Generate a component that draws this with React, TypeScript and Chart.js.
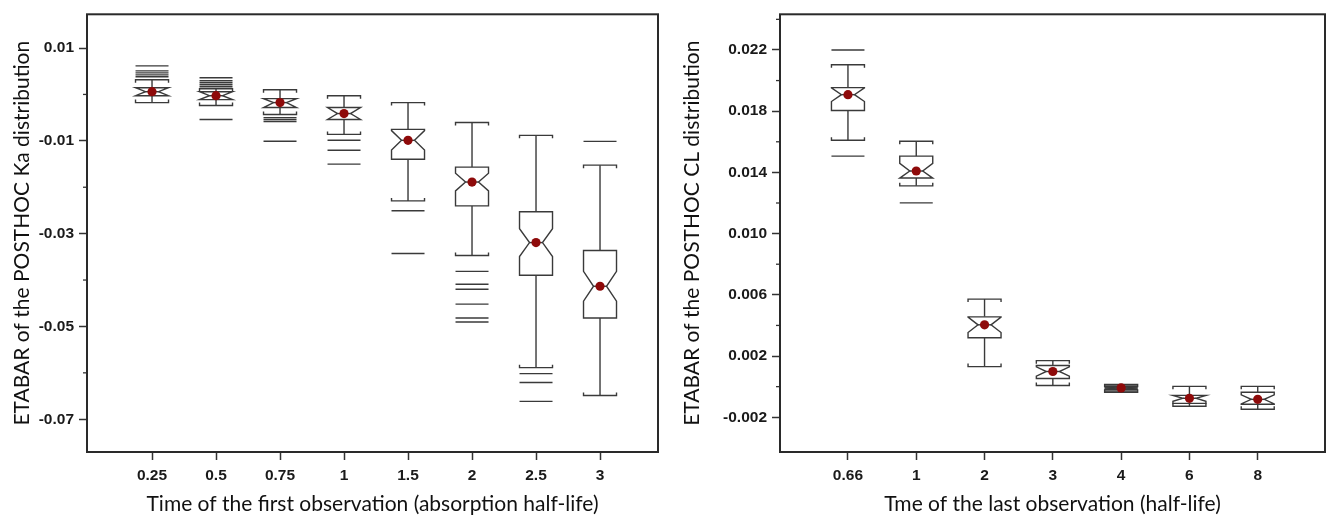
import React, { useEffect, useRef } from "react";
import { Chart, registerables } from "chart.js";

Chart.register(...registerables);

// ---------- Left panel: ETABAR of POSTHOC Ka ----------
const kaCategories = ["0.25", "0.5", "0.75", "1", "1.5", "2", "2.5", "3"];
const kaLowerWhisker = [-0.00176, -0.0024, -0.00433, -0.00861, -0.02294, -0.03471, -0.05888, -0.06487];
const kaQ1 = [-0.00027, -0.00112, -0.00283, -0.0054, -0.01396, -0.02401, -0.03898, -0.04818];
const kaMedian = [0.00059, -0.00027, -0.00176, -0.00412, -0.00989, -0.01888, -0.03193, -0.04134];
const kaQ3 = [0.00144, 0.00059, -0.00091, -0.00283, -0.00754, -0.01567, -0.02529, -0.03364];
const kaUpperWhisker = [0.00316, 0.00123, 0.00102, -0.00027, -0.00176, -0.00604, -0.00882, -0.01524];
const kaNotch = [0.0009, 0.0009, 0.0011, 0.0013, 0.0021, 0.0019, 0.003, 0.0032];
const kaOutliers = [
  [0.00615, 0.00508, 0.00465, 0.00422, 0.0038],
  [0.00358, 0.00294, 0.00251, 0.00209, 0.00166, -0.0054],
  [-0.005, -0.0054, -0.00583, -0.0101],
  [-0.00989, -0.01203, -0.01502],
  [-0.02508, -0.03428],
  [-0.03813, -0.04091, -0.04198, -0.04519, -0.04818, -0.04904],
  [-0.06016, -0.06209, -0.06615],
  [-0.01011],
];
const kaYTicks = [0.01, 0, -0.01, -0.02, -0.03, -0.04, -0.05, -0.06, -0.07];
const kaYLabels = ["0.01", "", "-0.01", "", "-0.03", "", "-0.05", "", "-0.07"];
const kaYRange = [-0.07706, 0.01727];
const kaXRange = [-1.016, 7.906];
const kaXTitle = "Time of the first observation (absorption half-life)";
const kaYTitle = "ETABAR of the POSTHOC Ka distribution";

// ---------- Right panel: ETABAR of POSTHOC CL ----------
const clCategories = ["0.66", "1", "2", "3", "4", "6", "8"];
const clLowerWhisker = [0.0161, 0.01312, 0.00131, 0.00008, -0.00037, -0.00128, -0.00148];
const clQ1 = [0.01804, 0.01363, 0.0032, 0.00053, -0.00018, -0.00109, -0.00115];
const clMedian = [0.01908, 0.01409, 0.00404, 0.00099, -0.00008, -0.00076, -0.00083];
const clQ3 = [0.01954, 0.01506, 0.00456, 0.00138, 0.00002, -0.00057, -0.00037];
const clUpperWhisker = [0.02103, 0.01603, 0.00572, 0.0017, 0.00015, 0.00002, 0.00002];
const clNotch = [0.00045, 0.0005, 0.0005, 0.0003, 0.0001, 0.0002, 0.0003];
const clOutliers = [[0.022, 0.01506], [0.01201], [], [], [], [], []];
const clYTicks = [0.024, 0.022, 0.02, 0.018, 0.016, 0.014, 0.012, 0.01, 0.008, 0.006, 0.004, 0.002, 0, -0.002];
const clYLabels = ["", "0.022", "", "0.018", "", "0.014", "", "0.010", "", "0.006", "", "0.002", "", "-0.002"];
const clYRange = [-0.00427, 0.02433];
const clXRange = [-0.995, 6.985];
const clXTitle = "Tme of the last observation (half-life)";
const clYTitle = "ETABAR of the POSTHOC CL distribution";

type Stats = {
  lo: number[];
  q1: number[];
  med: number[];
  q3: number[];
  hi: number[];
  notch: number[];
  out: number[][];
  yTicks: number[];
  yLabels: string[];
};

const LINE = "#3a3a3a";

function makeBoxPlugin(s: Stats) {
  return {
    id: "notchedBoxes",
    beforeDatasetsDraw(chart: any) {
      const { ctx, scales } = chart;
      const x = scales.x;
      const y = scales.y;
      const hw = 16.5;
      const inset = 10;
      const hook = 3;
      const py = (v: number) => y.getPixelForValue(v);
      ctx.save();
      ctx.strokeStyle = LINE;
      ctx.lineWidth = 1.4;
      ctx.lineJoin = "miter";
      s.med.forEach((m, i) => {
        const cx = x.getPixelForValue(i);
        // outliers
        s.out[i].forEach((o) => {
          const oy = py(o);
          ctx.beginPath();
          ctx.moveTo(cx - hw, oy);
          ctx.lineTo(cx + hw, oy);
          ctx.stroke();
        });
        const yHi = py(s.hi[i]);
        const yLo = py(s.lo[i]);
        const yQ3 = py(s.q3[i]);
        const yQ1 = py(s.q1[i]);
        const yM = py(m);
        const tiny = yQ1 - yQ3 < 5;
        if (tiny) {
          ctx.fillStyle = "#6a6a6a";
          ctx.fillRect(cx - hw, yHi, hw * 2, yLo - yHi);
        }
        // whiskers
        ctx.beginPath();
        ctx.moveTo(cx, yQ3);
        ctx.lineTo(cx, yHi);
        ctx.moveTo(cx, yQ1);
        ctx.lineTo(cx, yLo);
        ctx.stroke();
        // caps with hooks toward box
        ctx.beginPath();
        ctx.moveTo(cx - hw, yHi + hook);
        ctx.lineTo(cx - hw, yHi);
        ctx.lineTo(cx + hw, yHi);
        ctx.lineTo(cx + hw, yHi + hook);
        ctx.moveTo(cx - hw, yLo - hook);
        ctx.lineTo(cx - hw, yLo);
        ctx.lineTo(cx + hw, yLo);
        ctx.lineTo(cx + hw, yLo - hook);
        ctx.stroke();
        // notched box
        const nHi = Math.max(py(m + s.notch[i]), yQ3);
        const nLo = Math.min(py(m - s.notch[i]), yQ1);
        ctx.beginPath();
        ctx.moveTo(cx - hw, yQ3);
        ctx.lineTo(cx + hw, yQ3);
        ctx.lineTo(cx + hw, nHi);
        ctx.lineTo(cx + hw - inset, yM);
        ctx.lineTo(cx + hw, nLo);
        ctx.lineTo(cx + hw, yQ1);
        ctx.lineTo(cx - hw, yQ1);
        ctx.lineTo(cx - hw, nLo);
        ctx.lineTo(cx - hw + inset, yM);
        ctx.lineTo(cx - hw, nHi);
        ctx.closePath();
        if (!tiny) {
          ctx.fillStyle = "#ffffff";
          ctx.fill();
        }
        ctx.stroke();
        // median line
        ctx.beginPath();
        ctx.moveTo(cx - hw + (tiny ? 0 : inset), yM);
        ctx.lineTo(cx + hw - (tiny ? 0 : inset), yM);
        ctx.stroke();
      });
      ctx.restore();
    },
    afterDraw(chart: any) {
      const { ctx, chartArea, scales } = chart;
      const y = scales.y;
      ctx.save();
      // minor ticks
      ctx.strokeStyle = "#333";
      ctx.lineWidth = 1.3;
      s.yTicks.forEach((v, i) => {
        if (s.yLabels[i] !== "") return;
        const yy = y.getPixelForValue(v);
        ctx.beginPath();
        ctx.moveTo(chartArea.left, yy);
        ctx.lineTo(chartArea.left - 4, yy);
        ctx.stroke();
      });
      // frame
      ctx.strokeStyle = "#2a2a2a";
      ctx.lineWidth = 2;
      ctx.strokeRect(chartArea.left, chartArea.top, chartArea.right - chartArea.left, chartArea.bottom - chartArea.top);
      ctx.restore();
    },
  };
}

type PanelProps = {
  width: number;
  height: number;
  categories: string[];
  stats: Stats;
  yRange: number[];
  xRange: number[];
  xTitle: string;
  yTitle: string;
  yAxisWidth: number;
  yTitlePad: number;
  padRight: number;
};

const TICK_FONT = { family: '"Liberation Sans", Arial, sans-serif', size: 15.5, weight: "bold" as const };
const TITLE_FONT = { family: "Lato, 'Open Sans', sans-serif", size: 21, weight: "normal" as const };

function Panel(p: PanelProps) {
  const ref = useRef<HTMLCanvasElement>(null);
  useEffect(() => {
    if (!ref.current) return;
    const s = p.stats;
    const chart = new Chart(ref.current, {
      type: "scatter",
      data: {
        datasets: [
          {
            data: s.med.map((m, i) => ({ x: i, y: m })),
            pointRadius: 4.6,
            pointHoverRadius: 4.6,
            backgroundColor: "#8e0a0a",
            borderColor: "#8e0a0a",
            borderWidth: 0,
          },
        ],
      },
      options: {
        responsive: false,
        animation: false,
        devicePixelRatio: 1,
        events: [],
        layout: { padding: { left: 0, top: 11, right: p.padRight, bottom: 0 } },
        plugins: { legend: { display: false }, tooltip: { enabled: false } },
        scales: {
          x: {
            type: "linear",
            bounds: "data",
            min: p.xRange[0],
            max: p.xRange[1],
            afterBuildTicks: (sc: any) => {
              sc.ticks = p.categories.map((_, i) => ({ value: i }));
            },
            afterFit: (sc: any) => {
              sc.height = 66;
            },
            border: { display: false },
            grid: { drawOnChartArea: false, drawTicks: true, tickLength: 8, tickColor: "#333", tickWidth: 1.5 },
            ticks: {
              autoSkip: false,
              maxRotation: 0,
              padding: 6,
              color: "#1a1a1a",
              font: TICK_FONT,
              callback: (_v: any, i: number) => p.categories[i],
            },
            title: {
              display: true,
              text: p.xTitle,
              color: "#111",
              font: TITLE_FONT,
              padding: { top: 0, bottom: 1 },
            },
          },
          y: {
            type: "linear",
            bounds: "data",
            min: p.yRange[0],
            max: p.yRange[1],
            afterBuildTicks: (sc: any) => {
              sc.ticks = s.yTicks.map((v) => ({ value: v }));
            },
            afterFit: (sc: any) => {
              sc.width = p.yAxisWidth;
            },
            border: { display: false },
            grid: {
              drawOnChartArea: false,
              drawTicks: true,
              tickLength: 8,
              tickWidth: 1.5,
              tickColor: (c: any) => (c.tick && c.tick.label === "" ? "rgba(0,0,0,0)" : "#333"),
            },
            ticks: {
              autoSkip: false,
              padding: 5,
              color: "#1a1a1a",
              font: TICK_FONT,
              callback: (_v: any, i: number) => s.yLabels[i],
            },
            title: {
              display: true,
              text: p.yTitle,
              color: "#111",
              font: TITLE_FONT,
              padding: { top: p.yTitlePad, bottom: 0 },
            },
          },
        },
      },
      plugins: [makeBoxPlugin(s)],
    } as any);
    return () => chart.destroy();
  }, []);
  return <canvas ref={ref} width={p.width} height={p.height} style={{ display: "block" }} />;
}

export default function App() {
  const kaStats: Stats = {
    lo: kaLowerWhisker,
    q1: kaQ1,
    med: kaMedian,
    q3: kaQ3,
    hi: kaUpperWhisker,
    notch: kaNotch,
    out: kaOutliers,
    yTicks: kaYTicks,
    yLabels: kaYLabels,
  };
  const clStats: Stats = {
    lo: clLowerWhisker,
    q1: clQ1,
    med: clMedian,
    q3: clQ3,
    hi: clUpperWhisker,
    notch: clNotch,
    out: clOutliers,
    yTicks: clYTicks,
    yLabels: clYLabels,
  };
  return (
    <div style={{ position: "absolute", left: 0, top: 0, width: 1333, height: 518, background: "#fff" }}>
      <div style={{ position: "absolute", left: 0, top: 0 }}>
        <Panel
          width={666}
          height={518}
          categories={kaCategories}
          stats={kaStats}
          yRange={kaYRange}
          xRange={kaXRange}
          xTitle={kaXTitle}
          yTitle={kaYTitle}
          yAxisWidth={87}
          yTitlePad={10}
          padRight={8}
        />
      </div>
      <div style={{ position: "absolute", left: 666, top: 0 }}>
        <Panel
          width={667}
          height={518}
          categories={clCategories}
          stats={clStats}
          yRange={clYRange}
          xRange={clXRange}
          xTitle={clXTitle}
          yTitle={clYTitle}
          yAxisWidth={114}
          yTitlePad={14}
          padRight={8}
        />
      </div>
    </div>
  );
}
